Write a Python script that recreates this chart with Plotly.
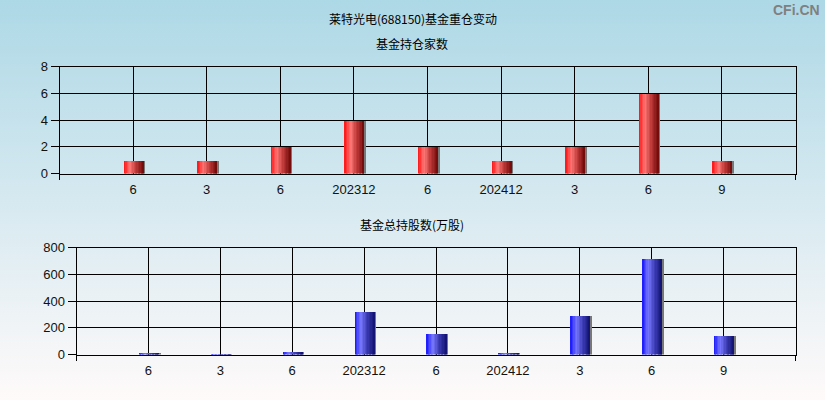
import base64
import plotly.graph_objects as go

# ---- data ----
categories = ["6", "3", "6", "202312", "6", "202412", "3", "6", "9"]
fund_counts = [1, 1, 2, 4, 2, 1, 2, 6, 1]
fund_shares = [8, 7, 25, 325, 160, 10, 295, 715, 145]

positions = list(range(1, len(categories) + 1))

W, H = 825, 400


def lerp(c1, c2, t):
    return tuple(round(a + (b - a) * t) for a, b in zip(c1, c2))


def grad_color(stops, t):
    for (t0, c0), (t1, c1) in zip(stops, stops[1:]):
        if t0 <= t <= t1:
            return "rgb(%d,%d,%d)" % lerp(c0, c1, (t - t0) / (t1 - t0) if t1 > t0 else 0)
    return "rgb(%d,%d,%d)" % stops[-1][1]


red_stops = [(0.0, (255, 16, 16)), (0.3, (255, 120, 120)), (0.62, (190, 56, 56)), (1.0, (110, 8, 8))]
blue_stops = [(0.0, (20, 20, 255)), (0.3, (120, 120, 255)), (0.62, (60, 60, 180)), (1.0, (16, 16, 110))]

fig = go.Figure()


def add_gradient_bars(values, xa, ya, stops, bar_w, n=14):
    sw = bar_w / n
    # grey shadow edge at right (drawn first, peeks out 1-2px)
    fig.add_trace(go.Bar(
        x=positions, y=values, xaxis=xa, yaxis=ya,
        width=bar_w * 0.1, offset=bar_w * 0.98 - bar_w / 2,
        marker=dict(color="rgb(120,120,120)", line=dict(width=0)),
        showlegend=False, hoverinfo="skip",
    ))
    for k in range(n):
        t = (k + 0.5) / n
        w = sw * 1.6 if k < n - 1 else sw
        fig.add_trace(go.Bar(
            x=positions, y=values, xaxis=xa, yaxis=ya,
            width=w, offset=-bar_w / 2 + k * sw,
            marker=dict(color=grad_color(stops, t), line=dict(width=0)),
            showlegend=False, hoverinfo="skip",
        ))


add_gradient_bars(fund_counts, "x", "y", red_stops, 0.27)
add_gradient_bars(fund_shares, "x2", "y2", blue_stops, 0.28)

tickfont = dict(family="Liberation Sans, Arial, sans-serif", size=13, color="#111")

xcommon = dict(
    range=[0, 10], tickmode="array", tickvals=positions, ticktext=categories,
    ticks="", showgrid=True, gridcolor="black", gridwidth=1,
    showline=True, linecolor="black", linewidth=1, mirror=True,
    zeroline=False, tickfont=tickfont, fixedrange=True, automargin=False,
    ticklabelstandoff=4,
    minor=dict(tickvals=[0, 10], ticks="outside", ticklen=5, tickcolor="black", showgrid=False),
)
ycommon = dict(
    ticks="outside", ticklen=8, tickcolor="black", showgrid=True, gridcolor="black",
    gridwidth=1, showline=True, linecolor="black", linewidth=1, mirror=True,
    zeroline=False, tickfont=tickfont, fixedrange=True, automargin=False,
)

svg = (
    '<svg xmlns="http://www.w3.org/2000/svg" width="825" height="400" preserveAspectRatio="none">'
    '<defs><linearGradient id="g" x1="0" y1="0" x2="0" y2="1">'
    '<stop offset="0" stop-color="#add8e6"/>'
    '<stop offset="1" stop-color="#fffafa"/>'
    '</linearGradient></defs>'
    '<rect width="825" height="400" fill="url(#g)"/></svg>'
)
bg_uri = "data:image/svg+xml;base64," + base64.b64encode(svg.encode()).decode()

cjk = "Noto Sans CJK SC, sans-serif"

fig.update_layout(
    template="none",
    width=W, height=H, autosize=False, margin=dict(l=0, r=0, t=0, b=0, pad=0),
    paper_bgcolor="#c4e2ec", plot_bgcolor="rgba(0,0,0,0)",
    barmode="overlay", bargap=0,
    xaxis=dict(domain=[59.5 / W, 795.5 / W], anchor="y", **xcommon),
    yaxis=dict(domain=[1 - 173.5 / H, 1 - 66.5 / H], anchor="x", range=[0, 8], dtick=2, **ycommon),
    xaxis2=dict(domain=[76.5 / W, 795.5 / W], anchor="y2", **xcommon),
    yaxis2=dict(domain=[1 - 354.5 / H, 1 - 247.5 / H], anchor="x2", range=[0, 800], dtick=200, **ycommon),
    images=[dict(source=bg_uri, xref="paper", yref="paper", x=0, y=1, sizex=1, sizey=1,
                 xanchor="left", yanchor="top", sizing="stretch", layer="below")],
    annotations=[
        dict(text="莱特光电(688150)基金重仓变动", x=412.5 / W, y=1 - 18 / H, xref="paper", yref="paper",
             showarrow=False, font=dict(family=cjk, size=12, color="black"), xanchor="center", yanchor="middle"),
        dict(text="基金持仓家数", x=412 / W, y=1 - 43 / H, xref="paper", yref="paper",
             showarrow=False, font=dict(family=cjk, size=12, color="black"), xanchor="center", yanchor="middle"),
        dict(text="基金总持股数(万股)", x=412 / W, y=1 - 224 / H, xref="paper", yref="paper",
             showarrow=False, font=dict(family=cjk, size=12, color="black"), xanchor="center", yanchor="middle"),
        dict(text="<b>CFi.CN</b>", x=822 / W, y=1 - 10 / H, xref="paper", yref="paper",
             showarrow=False, font=dict(family="Liberation Sans, Arial, sans-serif", size=14, color="#808080"),
             xanchor="right", yanchor="middle"),
    ],
)

fig.write_html(
    "out.html",
    config={"displayModeBar": False, "responsive": False},
    post_script=(
        "document.documentElement.style.margin='0';"
        "document.body.style.margin='0';document.body.style.overflow='hidden';"
        "var d=document.getElementById('{plot_id}');"
        "d.style.position='fixed';d.style.left='0px';d.style.top='0px';"
    ),
)
